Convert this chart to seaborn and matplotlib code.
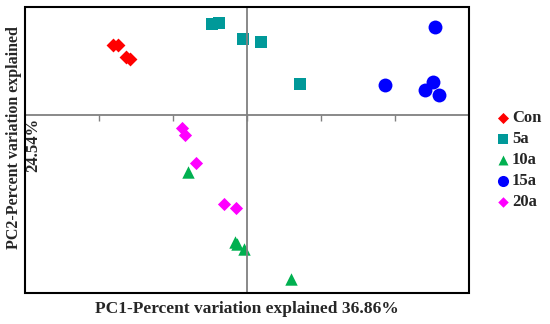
import seaborn as sns
import matplotlib.pyplot as plt
import pandas as pd
from matplotlib.patches import Rectangle

sns.set_style("white")
plt.rcParams['font.family'] = ['Liberation Serif', 'DejaVu Serif']

groups = ['Con'] * 4 + ['5a'] * 5 + ['10a'] * 5 + ['15a'] * 5 + ['20a'] * 5
pc1 = [-1.81, -1.74, -1.64, -1.58,
       -0.47, -0.38, -0.05, 0.19, 0.72,
       -0.80, -0.16, -0.14, -0.04, 0.59,
       2.54, 1.87, 2.51, 2.41, 2.59,
       -0.88, -0.84, -0.69, -0.31, -0.15]
pc2 = [0.95, 0.95, 0.78, 0.76,
       1.23, 1.24, 1.03, 0.99, 0.42,
       -0.77, -1.71, -1.74, -1.81, -2.22,
       1.19, 0.41, 0.45, 0.34, 0.27,
       -0.18, -0.27, -0.65, -1.20, -1.26]
order = ['Con', '5a', '10a', '15a', '20a']
colors = {'Con': '#FF0000', '5a': '#009999', '10a': '#00B050', '15a': '#0000FF', '20a': '#FF00FF'}
marks = {'Con': 'D', '5a': 's', '10a': '^', '15a': 'o', '20a': 'D'}
sizes = {'Con': 50, '5a': 80, '10a': 80, '15a': 100, '20a': 45}

df = pd.DataFrame({'group': groups, 'PC1': pc1, 'PC2': pc2})

fig = plt.figure(figsize=(5.5, 3.24), dpi=100)
ax = fig.add_axes([0.0455, 0.0957, 0.8072, 0.8823])

for g in order:
    sns.scatterplot(data=df[df.group == g], x='PC1', y='PC2', color=colors[g],
                    marker=marks[g], s=sizes[g], linewidth=0, label=g, ax=ax)

ax.set_xlim(-3, 3)
ax.set_ylim(-2.405, 1.46)

# axes through the origin, outer box drawn separately
for side in ['top', 'right']:
    ax.spines[side].set_visible(False)
ax.spines['bottom'].set_position(('data', 0))
ax.spines['left'].set_position(('data', 0))
for side in ['bottom', 'left']:
    ax.spines[side].set_color('#808080')
    ax.spines[side].set_linewidth(1.3)
ax.set_xticks([-2, -1, 0, 1, 2])
ax.set_yticks([])
ax.tick_params(axis='x', direction='out', length=4, color='#808080', width=1, labelbottom=False, bottom=True)
ax.add_patch(Rectangle((0, 0), 1, 1, transform=ax.transAxes, fill=False,
                       edgecolor='black', linewidth=1.5, clip_on=False, zorder=5))

ax.set_xlabel('')
ax.set_ylabel('')
fig.text(0.449, 0.046, 'PC1-Percent variation explained 36.86%', ha='center', va='center',
         fontsize=12.5, fontweight='bold')
fig.text(0.026, 0.574, 'PC2-Percent variation explained', rotation=90, ha='center', va='center',
         fontsize=11.5, fontweight='bold')
fig.text(0.061, 0.552, '24.54%', rotation=90, ha='center', va='center',
         fontsize=12, fontweight='bold')

leg = ax.legend(loc='center left', bbox_to_anchor=(1.022, 0.465), frameon=False,
                prop={'weight': 'bold', 'size': 12}, handletextpad=0.0,
                labelspacing=0.3, markerscale=0.8, handlelength=1.1)

fig.savefig('out.png', dpi=100)
plt.close()
